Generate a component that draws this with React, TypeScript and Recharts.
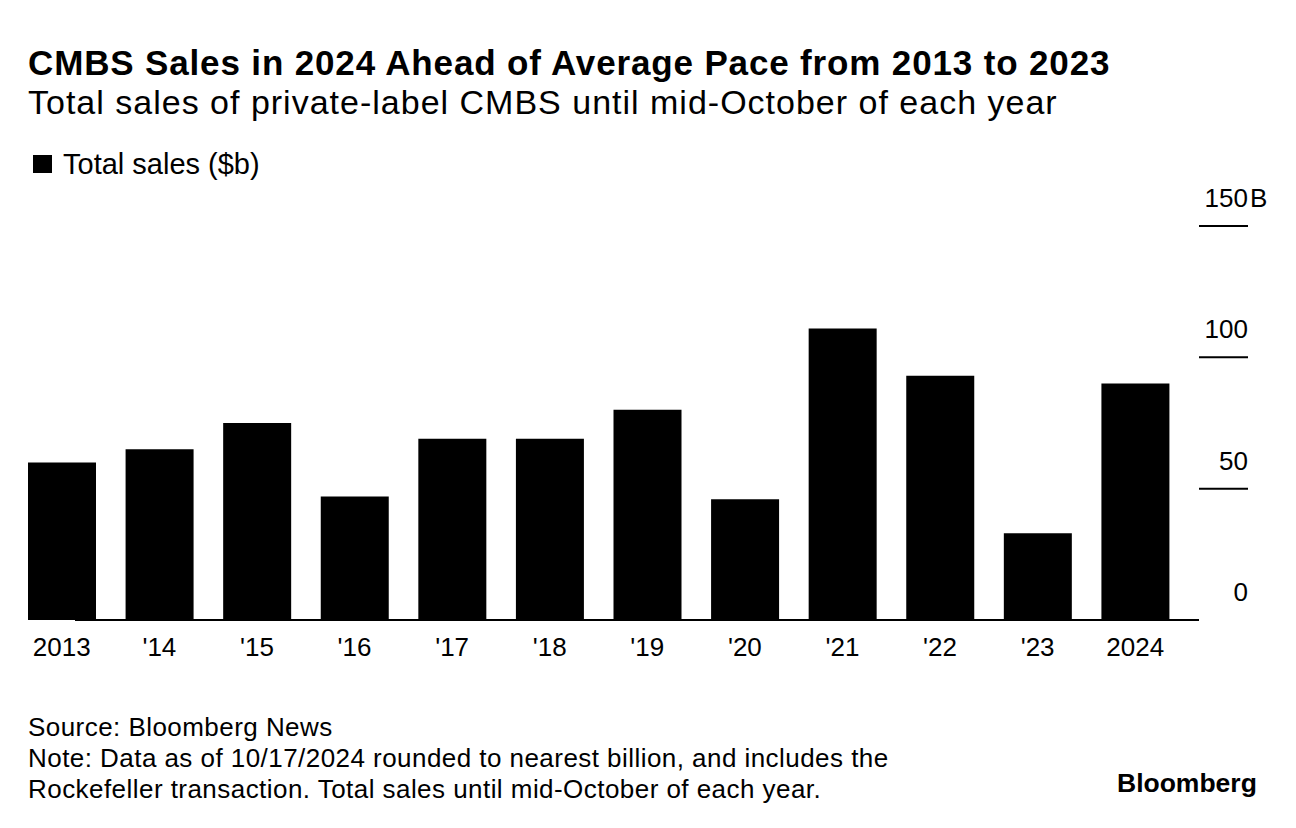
import { BarChart, Bar, XAxis, YAxis, ReferenceLine } from 'recharts';

const years = ['2013', "'14", "'15", "'16", "'17", "'18", "'19", "'20", "'21", "'22", "'23", '2024'];
const totalSales = [60, 65, 75, 47, 69, 69, 80, 46, 111, 93, 33, 90];
const yTicks = [0, 50, 100, 150];

const data = years.map((year, i) => ({ year, sales: totalSales[i] }));

const FONT = '"Liberation Sans", Arial, Helvetica, sans-serif';

function XTick({ x, y, payload }: any) {
  return (
    <text x={x} y={y} dy={36} textAnchor="middle" fontSize={26} fontFamily={FONT} fill="#000">
      {payload.value}
    </text>
  );
}

function YTick({ x, y, payload }: any) {
  const v = payload.value;
  return (
    <g>
      {v !== 0 && <line x1={x + 15} x2={x + 64} y1={y} y2={y} stroke="#000" strokeWidth={2} />}
      <text x={x + 64} y={y - 19} textAnchor="end" fontSize={26} fontFamily={FONT} fill="#000">
        {v}
      </text>
      {v === 150 && (
        <text x={x + 66} y={y - 19} textAnchor="start" fontSize={26} fontFamily={FONT} fill="#000">
          B
        </text>
      )}
    </g>
  );
}

// bottom rule runs from the first bar's left edge to the end of the tick lines
function Baseline({ x1, x2, y1 }: any) {
  return <line x1={x1 + 15} x2={x2 + 62} y1={y1} y2={y1} stroke="#000" strokeWidth={2} />;
}

export default function App() {
  return (
    <div
      style={{
        position: 'absolute',
        left: 0,
        top: 0,
        width: 1296,
        height: 828,
        background: '#fff',
        fontFamily: FONT,
        color: '#000',
      }}
    >
      <div style={{ position: 'absolute', left: 28, top: 45, fontSize: 35, lineHeight: '35px', fontWeight: 700, letterSpacing: 0.85, whiteSpace: 'nowrap' }}>
        CMBS Sales in 2024 Ahead of Average Pace from 2013 to 2023
      </div>
      <div style={{ position: 'absolute', left: 28, top: 85, fontSize: 34, lineHeight: '34px', letterSpacing: 1.0, whiteSpace: 'nowrap' }}>
        Total sales of private-label CMBS until mid-October of each year
      </div>
      <div style={{ position: 'absolute', left: 33, top: 155, width: 19, height: 18, background: '#000' }} />
      <div style={{ position: 'absolute', left: 63, top: 150, fontSize: 29, lineHeight: '29px', whiteSpace: 'nowrap' }}>
        Total sales ($b)
      </div>

      <div style={{ position: 'absolute', left: 0, top: 0 }}>
        <BarChart width={1296} height={680} data={data} margin={{ top: 226, right: 48, bottom: 0, left: 13 }}>
          <XAxis
            dataKey="year"
            axisLine={false}
            tickLine={false}
            tickSize={0}
            tickMargin={0}
            height={60}
            interval={0}
            tick={<XTick />}
          />
          <YAxis
            orientation="right"
            domain={[0, 150]}
            ticks={yTicks}
            axisLine={false}
            tickLine={false}
            tickSize={0}
            tickMargin={0}
            width={64}
            tick={<YTick />}
          />
          <Bar dataKey="sales" fill="#000" barSize={68} isAnimationActive={false} />
          <ReferenceLine y={0} shape={<Baseline />} />
        </BarChart>
      </div>

      <div style={{ position: 'absolute', left: 28, top: 712, fontSize: 26, lineHeight: '31px', letterSpacing: 0.45, whiteSpace: 'nowrap' }}>
        <div>Source: Bloomberg News</div>
        <div>Note: Data as of 10/17/2024 rounded to nearest billion, and includes the</div>
        <div>Rockefeller transaction. Total sales until mid-October of each year.</div>
      </div>
      <div style={{ position: 'absolute', left: 1117, top: 770, fontSize: 26.5, lineHeight: '26.5px', fontWeight: 700, whiteSpace: 'nowrap' }}>
        Bloomberg
      </div>
    </div>
  );
}
